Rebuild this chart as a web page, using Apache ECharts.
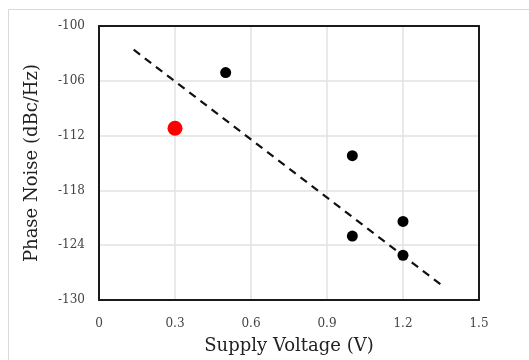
<!DOCTYPE html>
<html>
<head>
<meta charset="utf-8">
<script src="https://cdn.jsdelivr.net/npm/echarts@6/dist/echarts.min.js"></script>
<style>
  html, body { margin: 0; padding: 0; background: #fff; }
  #chart { width: 529px; height: 360px; }
</style>
</head>
<body>
<div id="chart"></div>
<script>
// Other works (black) and this work (red)
var otherPoints = [[0.5, -105.1], [1.0, -114.2], [1.0, -123.0], [1.2, -121.4], [1.2, -125.1]];
var thisWork = [[0.3, -111.2]];
// Trend line end points
var trendLine = [[0.137, -102.6], [1.358, -128.5]];

var xMin = 0, xMax = 1.5, xStep = 0.3;
var yMin = -130, yMax = -100, yStep = 6;

var serif = '"DejaVu Serif", "Liberation Serif", serif';
var frame = { show: true, onZero: false, lineStyle: { color: '#1a1a1a', width: 2 } };

var myChart = echarts.init(document.getElementById('chart'));
var option = {
  animation: false,
  graphic: [{
    type: 'rect',
    shape: { x: 8.5, y: 9.5, width: 540, height: 380 },
    style: { fill: 'none', stroke: '#d9d9d9', lineWidth: 1 },
    silent: true
  }],
  grid: { left: 99, right: 50, top: 26, bottom: 57 },
  xAxis: [{
    type: 'value',
    min: xMin, max: xMax, interval: xStep,
    name: 'Supply Voltage (V)',
    nameLocation: 'middle',
    nameGap: 37,
    nameTextStyle: { fontFamily: serif, fontSize: 18, color: '#222' },
    axisLine: frame,
    axisTick: { show: false },
    axisLabel: {
      margin: 18, fontFamily: serif, fontSize: 12, color: '#444',
      formatter: function (v) { return v === 0 ? '0' : v.toFixed(1); }
    },
    splitLine: { lineStyle: { color: '#e2e2e2', width: 1.5 } }
  }, {
    type: 'value', position: 'top',
    min: xMin, max: xMax, interval: xStep,
    axisLine: frame, axisTick: { show: false }, axisLabel: { show: false },
    splitLine: { show: false }
  }],
  yAxis: [{
    type: 'value',
    min: yMin, max: yMax, interval: yStep,
    name: 'Phase Noise (dBc/Hz)',
    nameLocation: 'middle',
    nameGap: 58,
    nameTextStyle: { fontFamily: serif, fontSize: 18, color: '#222' },
    axisLine: frame,
    axisTick: { show: false },
    axisLabel: { margin: 14, fontFamily: serif, fontSize: 12, color: '#444' },
    splitLine: { lineStyle: { color: '#e2e2e2', width: 1.5 } }
  }, {
    type: 'value', position: 'right',
    min: yMin, max: yMax, interval: yStep,
    axisLine: frame, axisTick: { show: false }, axisLabel: { show: false },
    splitLine: { show: false }
  }],
  series: [
    {
      type: 'line',
      data: trendLine,
      symbol: 'none',
      lineStyle: { color: '#111', width: 2.2, type: [8, 6] },
      z: 2
    },
    {
      type: 'scatter',
      data: otherPoints,
      symbolSize: 11,
      itemStyle: { color: '#000', opacity: 1 },
      z: 3
    },
    {
      type: 'scatter',
      data: thisWork,
      symbolSize: 15,
      itemStyle: { color: '#ff0000', opacity: 1 },
      z: 3
    }
  ]
};
myChart.setOption(option);
</script>
</body>
</html>
